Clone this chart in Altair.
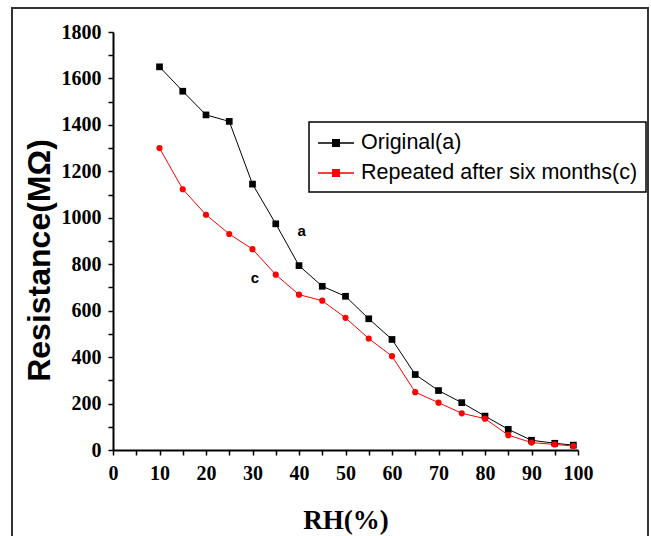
import altair as alt
import pandas as pd

rh = [10, 15, 20, 25, 30, 35, 40, 45, 50, 55, 60, 65, 70, 75, 80, 85, 90, 95, 99]
original = [1650, 1545, 1443, 1415, 1145, 974, 794, 705, 662, 565, 476, 325, 256, 204, 146, 89, 42, 29, 21]
repeated = [1300, 1123, 1013, 930, 865, 755, 669, 643, 569, 480, 404, 249, 204, 158, 135, 64, 32, 24, 17]
series_names = ["Original(a)", "Repeated after six months(c)"]
series_colors = ["#000000", "#ff0000"]
x_ticks = list(range(0, 101, 5))
y_ticks = list(range(0, 1801, 100))
annot_text = ["a", "c"]
annot_rh = [40.6, 30.5]
annot_res = [944, 742]

rows = []
for x, a, c in zip(rh, original, repeated):
    rows.append({"RH": x, "Resistance": a, "Series": series_names[0]})
    rows.append({"RH": x, "Resistance": c, "Series": series_names[1]})
df = pd.DataFrame(rows)
ann = pd.DataFrame({"RH": annot_rh, "Resistance": annot_res, "label": annot_text})

x_enc = alt.X(
    "RH:Q",
    scale=alt.Scale(domain=[0, 100], nice=False, zero=False),
    axis=alt.Axis(
        values=x_ticks,
        labelExpr="datum.value % 10 == 0 ? datum.label : ''",
        title="RH(%)",
        titleFont="Liberation Serif",
        titleFontSize=27,
        titleFontWeight="bold",
        titleColor="black",
        titleBaseline="alphabetic",
        titleX=232.5,
        titleY=78,
        labelPadding=8,
        labelFlush=False,
        labelOverlap=False,
    ),
)
y_enc = alt.Y(
    "Resistance:Q",
    scale=alt.Scale(domain=[0, 1800], nice=False),
    axis=alt.Axis(
        values=y_ticks,
        format="d",
        labelExpr="datum.value % 200 == 0 ? datum.label : ''",
        title="Resistance(MΩ)",
        titleFont="Liberation Sans",
        titleFontSize=32,
        titleFontWeight="bold",
        titleColor="black",
        titleAngle=270,
        titleBaseline="alphabetic",
        titleAlign="center",
        titleX=-64,
        titleY=228,
        labelPadding=7,
        labelFlush=False,
        labelOverlap=False,
    ),
)

legend_path = ("M-1,0H2 "
               "M0.22,-0.28H0.78V0.28H0.22Z "
               "M0.3,-0.2H0.7V0.2H0.3Z "
               "M0.38,-0.12H0.62V0.12H0.38Z "
               "M0.46,-0.04H0.54V0.04H0.46Z")

color_enc = alt.Color(
    "Series:N",
    scale=alt.Scale(domain=series_names, range=series_colors),
    legend=alt.Legend(
        title=None,
        orient="none",
        legendX=196,
        legendY=90,
        padding=8,
        strokeColor="black",
        symbolType=legend_path,
        symbolSize=576,
        symbolStrokeWidth=1.3,
        labelFont="Liberation Sans",
        labelFontSize=21.5,
        labelColor="black",
        labelOffset=18,
        labelLimit=500,
        rowPadding=6,
    ),
)

frame = alt.Chart(alt.Data(values=[{}])).mark_rect(
    fillOpacity=0, stroke="#333333", strokeWidth=2, clip=False
).encode(
    x=alt.value(-101), x2=alt.value(535), y=alt.value(-24), y2=alt.value(520)
)

lines = alt.Chart(df).mark_line(strokeWidth=1).encode(x=x_enc, y=y_enc, color=color_enc)

pts_a = alt.Chart(df).transform_filter(
    alt.datum.Series == series_names[0]
).mark_point(shape="square", filled=True, size=45, color=series_colors[0], opacity=1).encode(x=x_enc, y=y_enc)

pts_c = alt.Chart(df).transform_filter(
    alt.datum.Series == series_names[1]
).mark_point(shape="circle", filled=True, size=38, color=series_colors[1], opacity=1).encode(x=x_enc, y=y_enc)

texts = alt.Chart(ann).mark_text(
    font="Liberation Sans", fontWeight="bold", fontSize=15, color="black"
).encode(x=x_enc, y=y_enc, text="label:N")

chart = alt.layer(frame, lines, pts_a, pts_c, texts).properties(
    width=465,
    height=418,
    padding={"left": 113, "top": 32, "right": 73, "bottom": 86},
    autosize="none",
    background="white",
).configure_axis(
    domainColor="black",
    domainWidth=2,
    tickColor="black",
    tickWidth=1.5,
    tickSize=5,
    grid=False,
    labelFont="Liberation Serif",
    labelFontWeight="bold",
    labelFontSize=20,
    labelColor="black",
).configure_legend(
    strokeWidth=1.5,
).configure_view(stroke=None)

chart.save("out.html", embed_options={"renderer": "svg", "actions": False})
